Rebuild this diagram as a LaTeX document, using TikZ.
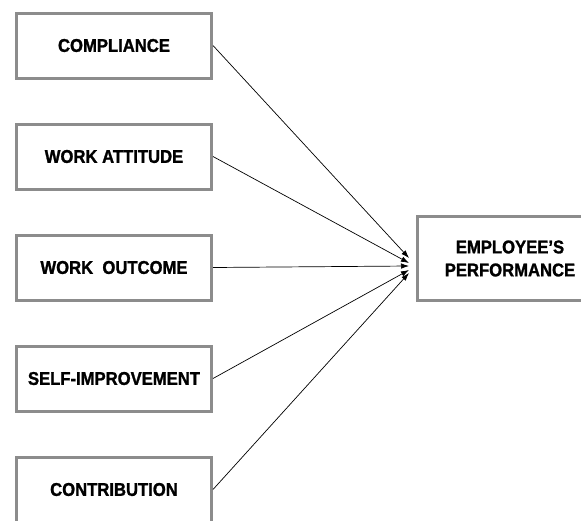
\documentclass[tikz,border=0pt]{standalone}
\usepackage{fontspec}
\usepackage{tikz}
\usetikzlibrary{arrows.meta}
\newfontfamily\boxfont[FakeStretch=0.9,FakeBold=1.3]{Liberation Sans}
\definecolor{boxgray}{RGB}{140,140,140}

\begin{document}
\begin{tikzpicture}[x=1pt,y=1pt,>={Latex[length=8pt,width=5.5pt]}]
  % Tamaño de la figura y recorte
  \useasboundingbox (0,0) rectangle (581,-520);
  \clip (0,0) rectangle (581,-520);

  \tikzset{
    factor/.style={draw=boxgray,line width=3pt,fill=white,
      minimum width=195,minimum height=65,inner sep=0pt,
      font=\boxfont\bfseries\fontsize{18.5}{23}\selectfont},
    result/.style={factor,minimum width=185,minimum height=84,align=center}
  }

  % Dimensiones a la izquierda
  \foreach \lbl [count=\i] in {COMPLIANCE,WORK ATTITUDE,WORK~~OUTCOME,SELF-IMPROVEMENT,CONTRIBUTION} {
    \node[factor] (f\i) at (114,{-45.5-111*(\i-1)}) {\lbl};
  }

  % Variable dependiente
  \node[result] (perf) at (510,-258.5) {EMPLOYEE’S\\PERFORMANCE};

  % Flechas hacia el desempeño
  \foreach \i/\dy in {1/0.5,2/-4.5,3/-7.5,4/-11.5,5/-14.5} {
    \draw[->,line width=0.7pt] (f\i.east) -- ([xshift=-7pt,yshift=\dy pt]perf.west);
  }
\end{tikzpicture}
\end{document}
